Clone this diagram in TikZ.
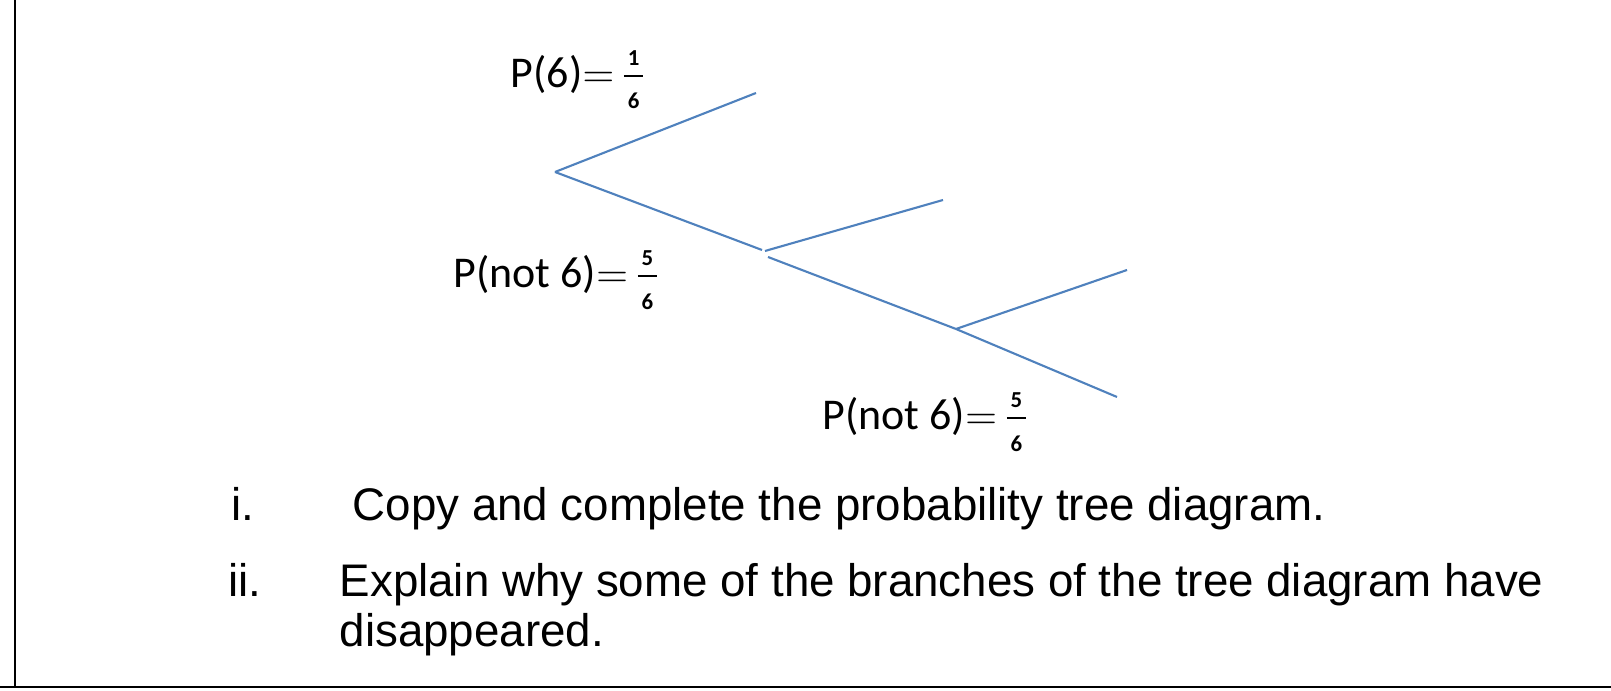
\documentclass[tikz,border=0pt]{standalone}
\usepackage{fontspec}
\setmainfont{Liberation Sans}
\newfontfamily\labelfont{Carlito}
\definecolor{treeblue}{RGB}{79,129,189}

\newcommand{\treescale}{1}
\newcommand{\fracfont}{\labelfont\bfseries\fontsize{6.5}{8}\selectfont}
\newcommand{\pfrac}[2]{\hspace{2.7pt}\makebox[5.5pt]{%
  \makebox[0pt]{\raisebox{6.3pt}{\fracfont #1}}%
  \makebox[0pt]{\raisebox{3.0pt}{\rule{5.5pt}{0.6pt}}}%
  \makebox[0pt]{\raisebox{-6.1pt}{\fracfont #2}}}}

\begin{document}
\begin{tikzpicture}[scale = \treescale,
  branch/.style = {draw = treeblue, line width = 0.6pt},
  prob/.style = {anchor = base west, inner sep = 0pt, font = \labelfont\fontsize{12.5}{15}\selectfont},
  task/.style = {anchor = base west, inner sep = 0pt, font = \fontsize{13}{15}\selectfont},
  frame/.style = {line width = 0.6pt}]

\useasboundingbox (0,0) rectangle (16.11,-6.91);

\coordinate (f1) at (0.15,0);
\coordinate (f2) at (0.15,-6.87);
\coordinate (f3) at (0,-6.87);
\coordinate (f4) at (16.11,-6.87);

\coordinate (v1) at (5.55,-1.72);
\coordinate (v2) at (7.56,-0.93);
\coordinate (v3) at (7.62,-2.50);
\coordinate (v4) at (7.65,-2.51);
\coordinate (v5) at (9.43,-2.00);
\coordinate (v6) at (7.68,-2.57);
\coordinate (v7) at (9.56,-3.29);
\coordinate (v8) at (11.27,-2.70);
\coordinate (v9) at (11.17,-3.97);

\node [prob] (p1) at (5.10,-0.875) {P(6)$=$\pfrac{1}{6}};
\node [prob] (p2) at (4.53,-2.88) {P(not 6)$=$\pfrac{5}{6}};
\node [prob] (p3) at (8.22,-4.30) {P(not 6)$=$\pfrac{5}{6}};

\node [task] (t1) at (2.31,-5.21) {i.};
\node [task] (t2) at (3.52,-5.21) {Copy and complete the probability tree diagram.};
\node [task] (t3) at (2.28,-5.97) {ii.};
\node [task] (t4) at (3.39,-5.97) {Explain why some of the branches of the tree diagram have};
\node [task] (t5) at (3.39,-6.47) {disappeared.};



\draw [frame] (f1) -- (f2);
\draw [frame] (f3) -- (f4);

\draw [branch] (v1) edge (v2);
\draw [branch] (v1) edge (v3);
\draw [branch] (v4) edge (v5);
\draw [branch] (v6) edge (v7);
\draw [branch] (v7) edge (v8);
\draw [branch] (v7) edge (v9);

\end{tikzpicture}
\end{document}
